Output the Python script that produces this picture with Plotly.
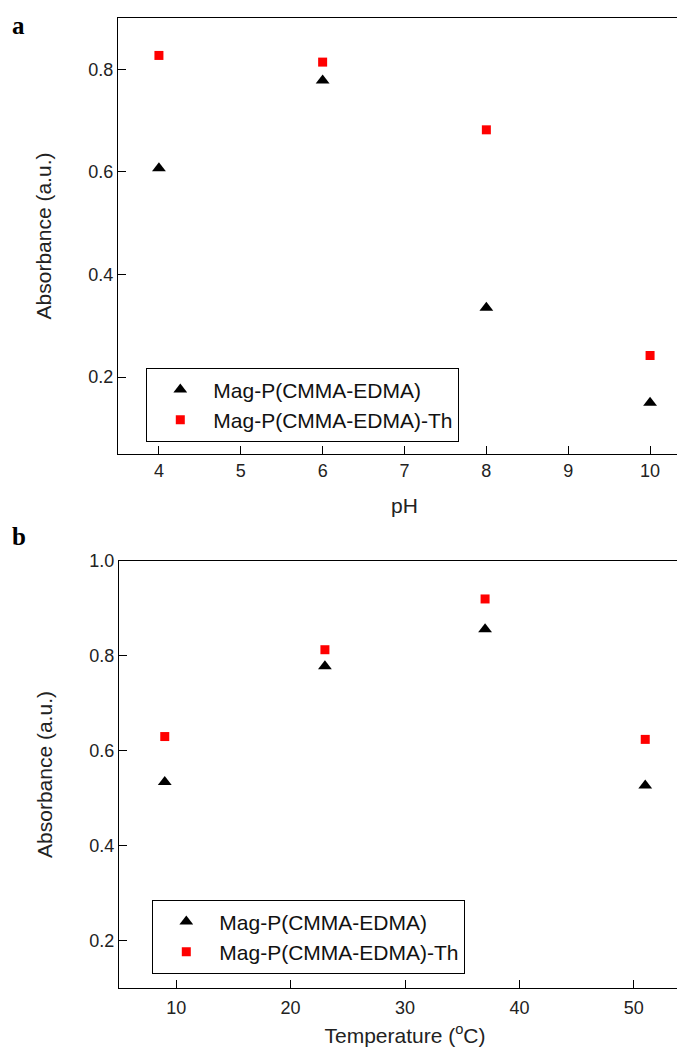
import plotly.graph_objects as go

# Panel a: pH
ph = [4, 6, 8, 10]
ph_mag = [0.607, 0.778, 0.335, 0.150]
ph_mag_th = [0.827, 0.814, 0.682, 0.242]

# Panel b: temperature
temp = [9, 23, 37, 51]
temp_mag = [0.534, 0.778, 0.856, 0.527]
temp_mag_th = [0.630, 0.813, 0.920, 0.624]

name1 = "Mag-P(CMMA-EDMA)"
name2 = "Mag-P(CMMA-EDMA)-Th"

W, H = 685, 1053
FONT = "Liberation Sans, Arial, sans-serif"

fig = go.Figure()

tri = dict(symbol="triangle-up", size=12, color="black", line=dict(width=0))
sq = dict(symbol="square", size=9, color="#ff0000", line=dict(width=0))

fig.add_trace(go.Scatter(x=ph, y=ph_mag, mode="markers", marker=tri, name=name1,
                         xaxis="x", yaxis="y", legend="legend"))
fig.add_trace(go.Scatter(x=ph, y=ph_mag_th, mode="markers", marker=sq, name=name2,
                         xaxis="x", yaxis="y", legend="legend"))
fig.add_trace(go.Scatter(x=temp, y=temp_mag, mode="markers", marker=tri, name=name1,
                         xaxis="x2", yaxis="y2", legend="legend2"))
fig.add_trace(go.Scatter(x=temp, y=temp_mag_th, mode="markers", marker=sq, name=name2,
                         xaxis="x2", yaxis="y2", legend="legend2"))

def px_x(p):
    return p / W

def px_y(p):
    return 1 - p / H

axis_common = dict(showline=True, linecolor="black", linewidth=1.3, mirror=True,
                   ticks="inside", ticklen=8, tickwidth=1.3, tickcolor="black",
                   showgrid=False, zeroline=False, automargin=False,
                   tickfont=dict(family=FONT, size=18, color="#222"),
                   title_font=dict(family=FONT, size=21, color="#222"))

legend_common = dict(xanchor="left", yanchor="top",
                     bordercolor="black", borderwidth=1.3, bgcolor="white",
                     font=dict(family=FONT, size=21, color="#111"), itemwidth=56,
                     tracegroupgap=0)

fig.update_layout(
    template="none",
    width=W, height=H,
    margin=dict(l=0, r=0, t=0, b=0, pad=0),
    paper_bgcolor="white", plot_bgcolor="white",
    font=dict(family=FONT, color="#222"),
    xaxis=dict(domain=[px_x(110), px_x(683)], anchor="y", range=[3.5, 10.5],
               tickmode="array", tickvals=[4, 5, 6, 7, 8, 9, 10],
               title=dict(text="pH", standoff=18), **axis_common),
    yaxis=dict(domain=[px_y(446), px_y(10)], anchor="x", range=[0.05, 0.9],
               tickmode="array", tickvals=[0.2, 0.4, 0.6, 0.8], tickformat=".1f",
               title=dict(text="Absorbance (a.u.)", standoff=30), **axis_common),
    xaxis2=dict(domain=[px_x(111), px_x(683)], anchor="y2", range=[5, 55],
                tickmode="array", tickvals=[10, 20, 30, 40, 50], ticklabelstandoff=3,
                title=dict(text="Temperature (<sup>o</sup>C)", standoff=11), **axis_common),
    yaxis2=dict(domain=[px_y(980), px_y(553)], anchor="x2", range=[0.1, 1.0],
                tickmode="array", tickvals=[0.2, 0.4, 0.6, 0.8, 1.0], tickformat=".1f",
                title=dict(text="Absorbance (a.u.)", standoff=30), **axis_common),
    legend=dict(x=px_x(138), y=px_y(360), **legend_common),
    legend2=dict(x=px_x(144), y=px_y(892), **legend_common),
    annotations=[
        dict(text="<b>a</b>", x=px_x(2), y=px_y(2), xref="paper", yref="paper",
             xanchor="left", yanchor="top", showarrow=False,
             font=dict(family="Liberation Serif, Times New Roman, serif", size=25, color="black")),
        dict(text="<b>b</b>", x=px_x(2), y=px_y(513), xref="paper", yref="paper",
             xanchor="left", yanchor="top", showarrow=False,
             font=dict(family="Liberation Serif, Times New Roman, serif", size=25, color="black")),
    ],
    showlegend=True,
)

fig.write_html("out.html")
